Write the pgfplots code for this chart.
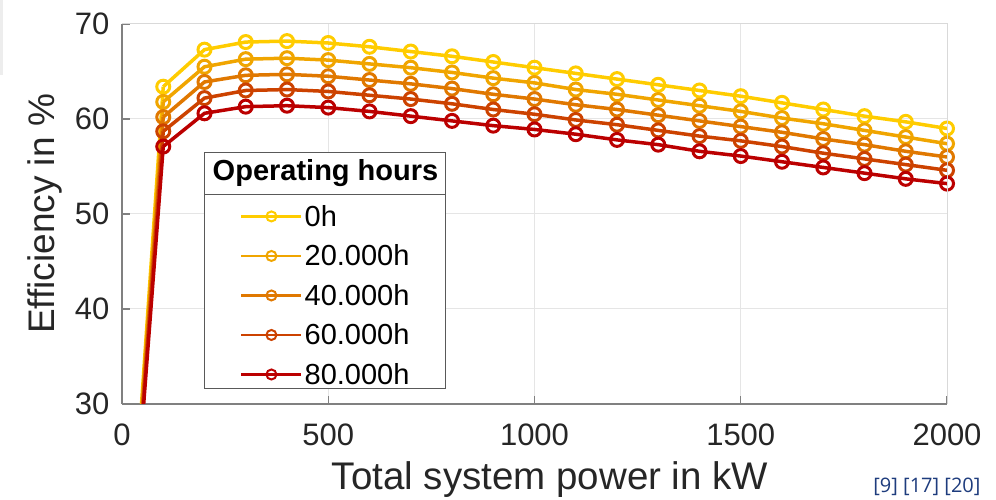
\documentclass[border=0pt]{standalone}
\usepackage{fontspec}
\setmainfont{Liberation Sans}
\newfontfamily\reffont{Open Sans}
\usepackage{pgfplots}
\pgfplotsset{compat=1.18}
\usepackage{pgfplotstable}

\definecolor{h0}{RGB}{255,204,0}
\definecolor{h20}{RGB}{240,165,0}
\definecolor{h40}{RGB}{224,120,0}
\definecolor{h60}{RGB}{204,66,0}
\definecolor{h80}{RGB}{187,0,0}
\definecolor{axgray}{RGB}{128,128,128}
\definecolor{ticktext}{RGB}{38,38,38}
\definecolor{refblue}{RGB}{30,60,125}

% efficiency (%) over total system power (kW) for different operating hours
\pgfplotstableread{
P     h0    h20   h40   h60   h80
100   63.4  61.8  60.2  58.7  57.1
200   67.3  65.5  63.9  62.2  60.6
300   68.1  66.3  64.6  63.0  61.3
400   68.2  66.4  64.7  63.1  61.4
500   68.0  66.2  64.5  62.9  61.2
600   67.6  65.8  64.1  62.5  60.8
700   67.1  65.4  63.7  62.1  60.3
800   66.6  64.9  63.2  61.6  59.8
900   66.0  64.3  62.6  61.0  59.3
1000  65.4  63.8  62.1  60.5  58.9
1100  64.8  63.1  61.5  59.9  58.4
1200  64.2  62.6  61.0  59.4  57.8
1300  63.6  62.0  60.4  58.8  57.3
1400  63.0  61.4  59.8  58.2  56.6
1500  62.4  60.8  59.2  57.7  56.1
1600  61.7  60.1  58.6  57.1  55.5
1700  61.0  59.5  57.9  56.4  54.9
1800  60.3  58.8  57.3  55.8  54.3
1900  59.7  58.1  56.6  55.2  53.7
2000  59.0  57.4  56.0  54.6  53.2
}\effdata

\pgfplotsset{
  effline/.style={line width=3.5pt, mark=o, mark size=6.5pt,
    mark options={solid, line width=3pt}},
  startseg/.style={line width=3.5pt, no marks, forget plot},
}

\begin{document}
\begin{tikzpicture}[x=1pt,y=1pt]
\path[use as bounding box] (0,0) rectangle (996,499);
% faint edge at the upper left
\fill[black!7] (0,424) rectangle (2.5,499);

\begin{axis}[
  at={(122pt,95pt)}, anchor=south west,
  scale only axis, width=825pt, height=380pt,
  xmin=0, xmax=2000, ymin=30, ymax=70,
  xtick={0,500,...,2000}, ytick={30,40,...,70},
  axis x line*=bottom, axis y line*=left,
  axis line style={draw=axgray, line width=1.2pt},
  tick align=inside, major tick length=8pt,
  tick style={draw=axgray, line width=1.2pt},
  grid=major, major grid style={draw=black!10, line width=1pt},
  tick label style={font=\fontsize{31}{37}\selectfont, text=ticktext},
  /pgf/number format/assume math mode=true,
  /pgf/number format/1000 sep={},
  xticklabel style={yshift=-16pt},
  yticklabel style={xshift=-9pt},
  xlabel={Total system power in kW},
  ylabel={Efficiency in \%},
  label style={text=ticktext},
  xlabel style={font=\fontsize{38.5}{46}\selectfont,
    at={(axis description cs:0.5188,-0.2263)}, anchor=base},
  ylabel style={font=\fontsize{37}{44}\selectfont,
    at={(axis description cs:-0.0933,0.5)}, anchor=center},
  legend style={draw=none, fill=none, at={(rel axis cs:0.143,0.529)},
    anchor=north west, font=\fontsize{29}{35}\selectfont,
    row sep=13pt, inner sep=0pt, nodes={inner sep=2pt}},
  legend cell align=left,
  legend image code/.code={%
    \draw[mark repeat=2, mark phase=2, #1, line width=2.5pt,
      mark options={solid, line width=2pt}, mark size=5pt]
      plot coordinates {(0pt,0pt) (30pt,0pt) (60pt,0pt)};},
  after end axis/.code={%
    \draw[black!15, line width=1pt] (rel axis cs:0,1) -- (rel axis cs:1,1) -- (rel axis cs:1,0);},
]
% steep start-up segments from zero load
\addplot[h0,  startseg] coordinates {(0,0) (100,63.4)};
\addplot[h20, startseg] coordinates {(0,0) (100,61.8)};
\addplot[h40, startseg] coordinates {(0,0) (100,60.2)};
\addplot[h60, startseg] coordinates {(0,0) (100,58.7)};
\addplot[h80, startseg] coordinates {(0,0) (100,57.1)};

\addplot[h0,  effline] table[x=P, y=h0]  {\effdata};
\addlegendentry{0h}
\addplot[h20, effline] table[x=P, y=h20] {\effdata};
\addlegendentry{20.000h}
\addplot[h40, effline] table[x=P, y=h40] {\effdata};
\addlegendentry{40.000h}
\addplot[h60, effline] table[x=P, y=h60] {\effdata};
\addlegendentry{60.000h}
\addplot[h80, effline] table[x=P, y=h80] {\effdata};
\addlegendentry{80.000h}

% legend frame with its title row
\filldraw[fill=white, draw=black!65, line width=1pt]
  (rel axis cs:0.1006,0.0395) rectangle (rel axis cs:0.3927,0.663);
\draw[black!65, line width=1pt]
  (rel axis cs:0.1006,0.5526) -- (rel axis cs:0.3927,0.5526);
\node[font=\fontsize{29}{35}\selectfont\bfseries, anchor=center]
  at (rel axis cs:0.2467,0.607) {Operating hours};
\end{axis}

\node[anchor=base east, text=refblue, font=\reffont\fontsize{20}{24}\selectfont]
  at (984,6.3) {[9] [17] [20]};
\end{tikzpicture}
\end{document}
